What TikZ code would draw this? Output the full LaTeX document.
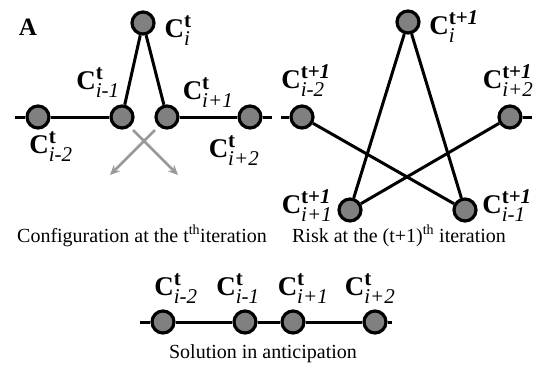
\documentclass[tikz,border=0pt]{standalone}
\usepackage{amsmath}
\usepackage{fontspec}
\setmainfont{Liberation Serif}
\usepackage{tikz}
\usetikzlibrary{arrows.meta,positioning}

\DeclareMathSizes{27}{27}{21}{16}
\newcommand{\Clab}[2]{$\textbf{C}^{\textbf{#1}}_{\textit{#2}}$}

\begin{document}
\begin{tikzpicture}[
  x=1pt, y=-1pt,
  dot/.style={circle, draw=black, line width=3.2pt, fill=black!50, minimum size=22pt, inner sep=0pt},
  lbl/.style={inner sep=0pt, font=\fontsize{27}{29}\selectfont},
  caption/.style={inner sep=0pt, anchor=base, font=\fontsize{20}{22}\selectfont},
  link/.style={line width=3pt},
  arrow/.style={-{Stealth[length=10pt,width=9pt]}, line width=2.6pt, draw=black!40}
]
\useasboundingbox (0,0) rectangle (541,365);

\node[inner sep=0pt, font=\fontsize{25}{27}\selectfont\bfseries] (tag) at (28,27) {A};

% configuration at t
\coordinate (l0) at (15,117);
\coordinate (r0) at (272,117);
\node[dot] (a0) at (143,23) {};
\node[dot] (am1) at (122,117) {};
\node[dot] (ap1) at (167,117) {};
\node[dot] (am2) at (38,117) {};
\node[dot] (ap2) at (250,117) {};
\draw[link] (l0) -- (am2) -- (am1);
\draw[link] (ap1) -- (ap2) -- (r0);
\draw[link] (am1) -- (a0) -- (ap1);
\coordinate (x1) at (155,130);
\coordinate (x2) at (110,175);
\coordinate (x3) at (133,130);
\coordinate (x4) at (178,175);
\draw[arrow] (x1) -- (x2);
\draw[arrow] (x3) -- (x4);

\node[lbl] (ta0) at (178,31) {\Clab{t}{i}};
\node[lbl] (tam1) at (98,83) {\Clab{t}{i-1}};
\node[lbl] (tap1) at (208,93) {\Clab{t}{i+1}};
\node[lbl] (tam2) at (51,147) {\Clab{t}{i-2}};
\node[lbl] (tap2) at (234,151) {\Clab{t}{i+2}};

% risk at t+1
\coordinate (l1) at (281,117);
\coordinate (r1) at (532,117);
\node[dot] (b0) at (408,22) {};
\node[dot] (bm2) at (302,117) {};
\node[dot] (bp2) at (510,117) {};
\node[dot] (bp1) at (350,210) {};
\node[dot] (bm1) at (465,210) {};
\draw[link] (l1) -- (bm2);
\draw[link] (bp2) -- (r1);
\draw[link] (bp1) -- (b0) -- (bm1);
\draw[link] (bm2) -- (bm1);
\draw[link] (bp2) -- (bp1);

\node[lbl] (tb0) at (454,27) {\Clab{t+\textit{1}}{i}};
\node[lbl] (tbm2) at (306,81) {\Clab{t+\textit{1}}{i-2}};
\node[lbl] (tbp2) at (508,81) {\Clab{t+\textit{1}}{i+2}};
\node[lbl] (tbp1) at (307,206) {\Clab{t+\textit{1}}{i+1}};
\node[lbl] (tbm1) at (507,206) {\Clab{t+\textit{1}}{i-1}};

\node[caption] (capa) at (142,242) {Configuration at the t\textsuperscript{th}iteration};
\node[caption] (capb) at (399,242) {Risk at the (t+1)\textsuperscript{th} iteration};

% solution
\coordinate (l2) at (140,322);
\coordinate (r2) at (392,322);
\node[dot] (cm2) at (163,322) {};
\node[dot] (cm1) at (245,322) {};
\node[dot] (cp1) at (293,322) {};
\node[dot] (cp2) at (375,322) {};
\draw[link] (l2) -- (cm2) -- (cm1) -- (cp1) -- (cp2) -- (r2);

\node[lbl] (tcm2) at (176,289) {\Clab{t}{i-2}};
\node[lbl] (tcm1) at (238,289) {\Clab{t}{i-1}};
\node[lbl] (tcp1) at (303,289) {\Clab{t}{i+1}};
\node[lbl] (tcp2) at (370,289) {\Clab{t}{i+2}};

\node[caption] (capc) at (263,358) {Solution in anticipation};
\end{tikzpicture}
\end{document}
